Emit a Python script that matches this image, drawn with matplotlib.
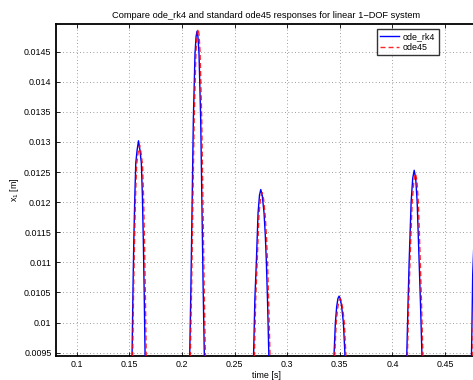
import matplotlib
matplotlib.use("Agg")
import matplotlib.pyplot as plt
from matplotlib.ticker import FixedLocator, FixedFormatter

plt.rcParams['font.family'] = ['Liberation Sans', 'DejaVu Sans']
plt.rcParams['mathtext.fontset'] = 'custom'
plt.rcParams['mathtext.rm'] = 'Liberation Sans'
plt.rcParams['mathtext.it'] = 'Liberation Sans'
plt.rcParams['mathtext.default'] = 'regular'

# ---- data (time [s], x1 [m]) ----
t_rk4 = [0.1522, 0.1526, 0.1534, 0.1542, 0.1552, 0.1561, 0.1574, 0.1587,
         0.1600, 0.1614, 0.1624, 0.1633, 0.1641, 0.1649, 0.1653,
         0.2069, 0.2074, 0.2085, 0.2097, 0.2108, 0.2124, 0.2134, 0.2143,
         0.2152, 0.2162, 0.2178, 0.2189, 0.2201, 0.2212, 0.2217,
         0.2676, 0.2681, 0.2693, 0.2707, 0.2723, 0.2737, 0.2749,
         0.2763, 0.2780, 0.2792, 0.2802, 0.2814, 0.2825, 0.2831,
         0.3441, 0.3446, 0.3458, 0.3470, 0.3482, 0.3493,
         0.3505, 0.3518, 0.3534, 0.3548, 0.3553,
         0.4132, 0.4137, 0.4148, 0.4159, 0.4178, 0.4193, 0.4207,
         0.4221, 0.4235, 0.4254, 0.4267, 0.4280, 0.4285,
         0.4745, 0.4752, 0.4763, 0.4800]
x_rk4 = [0.0090, 0.0095, 0.0105, 0.01134, 0.0121, 0.01265, 0.01287, 0.01302,
         0.01287, 0.01265, 0.0121, 0.01134, 0.0105, 0.0095, 0.0090,
         0.0090, 0.0095, 0.0106, 0.01204, 0.01337, 0.01447, 0.01475, 0.01484,
         0.01475, 0.01447, 0.01337, 0.01204, 0.0106, 0.0095, 0.0090,
         0.0090, 0.0095, 0.0104, 0.01101, 0.01182, 0.01212, 0.01221,
         0.01211, 0.01182, 0.01145, 0.01101, 0.0103, 0.0095, 0.0090,
         0.0090, 0.0095, 0.0100, 0.01026, 0.0104, 0.01044,
         0.0104, 0.01026, 0.0100, 0.0095, 0.0090,
         0.0090, 0.0095, 0.0103, 0.01101, 0.01201, 0.01240, 0.01253,
         0.01240, 0.01201, 0.01101, 0.0103, 0.0095, 0.0090,
         0.0090, 0.0095, 0.0108, 0.0125]

t_ode45 = [0.1528, 0.1532, 0.1540, 0.1549, 0.1559, 0.1569, 0.1583, 0.1597,
           0.1611, 0.1625, 0.1635, 0.1644, 0.1652, 0.1660, 0.1664,
           0.2075, 0.2080, 0.2092, 0.2104, 0.2116, 0.2133, 0.2144, 0.2153,
           0.2162, 0.2172, 0.2188, 0.2199, 0.2211, 0.2222, 0.2227,
           0.2684, 0.2689, 0.2701, 0.2715, 0.2732, 0.2747, 0.2761,
           0.2775, 0.2791, 0.2803, 0.2813, 0.2825, 0.2836, 0.2842,
           0.3448, 0.3453, 0.3466, 0.3479, 0.3491, 0.3503,
           0.3515, 0.3528, 0.3543, 0.3557, 0.3562,
           0.4138, 0.4143, 0.4155, 0.4167, 0.4187, 0.4204, 0.4219,
           0.4233, 0.4247, 0.4265, 0.4277, 0.4289, 0.4294,
           0.4757, 0.4764, 0.4775, 0.4800]
x_ode45 = [0.0090, 0.0095, 0.0105, 0.01134, 0.0121, 0.01262, 0.01282, 0.01295,
           0.01282, 0.01262, 0.0121, 0.01134, 0.0105, 0.0095, 0.0090,
           0.0090, 0.0095, 0.0106, 0.01204, 0.01337, 0.01450, 0.01479, 0.01488,
           0.01479, 0.01450, 0.01337, 0.01204, 0.0106, 0.0095, 0.0090,
           0.0090, 0.0095, 0.0104, 0.01101, 0.01180, 0.01207, 0.01216,
           0.01206, 0.01178, 0.01143, 0.01101, 0.0103, 0.0095, 0.0090,
           0.0090, 0.0095, 0.0100, 0.01023, 0.01036, 0.0104,
           0.01036, 0.01023, 0.0100, 0.0095, 0.0090,
           0.0090, 0.0095, 0.0103, 0.01101, 0.01198, 0.01236, 0.01248,
           0.01236, 0.01198, 0.01101, 0.0103, 0.0095, 0.0090,
           0.0090, 0.0095, 0.0106, 0.0120]

xticks = [0.1, 0.15, 0.2, 0.25, 0.3, 0.35, 0.4, 0.45]
xticklabels = ['0.1', '0.15', '0.2', '0.25', '0.3', '0.35', '0.4', '0.45']
yticks = [0.0095, 0.01, 0.0105, 0.011, 0.0115, 0.012, 0.0125, 0.013,
          0.0135, 0.014, 0.0145]
yticklabels = ['0.0095', '0.01', '0.0105', '0.011', '0.0115', '0.012',
               '0.0125', '0.013', '0.0135', '0.014', '0.0145']

title = 'Compare ode_rk4 and standard ode45 responses for linear 1\u2212DOF system'
series_names = ['ode_rk4', 'ode45']

# ---- figure ----
W, H = 473, 380
fig = plt.figure(figsize=(W / 100, H / 100), dpi=100)
L, R, T, B = 55.7, 476.6, 24.0, 355.7
ax = fig.add_axes([L / W, 1 - B / H, (R - L) / W, (B - T) / H])

fs = 6.4
ax.plot(t_rk4, x_rk4, color='#0000ff', lw=1.0, label=series_names[0], zorder=3)
ax.plot(t_ode45, x_ode45, color='#ff0000', lw=1.0, ls=(0, (3.6, 2.2)),
        label=series_names[1], zorder=4, alpha=0.85)

ax.set_xlim(0.08, 0.48)
ax.set_ylim(0.00945, 0.01496)
ax.xaxis.set_major_locator(FixedLocator(xticks))
ax.xaxis.set_major_formatter(FixedFormatter(xticklabels))
ax.yaxis.set_major_locator(FixedLocator(yticks))
ax.yaxis.set_major_formatter(FixedFormatter(yticklabels))

ax.tick_params(direction='in', length=3.2, width=0.6, labelsize=fs,
               top=True, right=True, colors='black', pad=3)
ax.grid(True, color='#666666', linestyle=(0, (1, 3.4)), linewidth=0.55)
for s in ax.spines.values():
    s.set_linewidth(1.3)

ax.set_title(title, fontsize=6.7, pad=4)
ax.set_xlabel('time [s]', fontsize=fs)
ax.set_ylabel('x$_1$ [m]', fontsize=fs)
ax.xaxis.set_label_coords(0.5, -0.046)
ax.yaxis.set_label_coords(-0.083, 0.5)

leg = ax.legend(loc='upper left', bbox_to_anchor=(377.3 / W, 1 - 29 / H),
                bbox_transform=fig.transFigure, fontsize=fs, frameon=True,
                fancybox=False, borderaxespad=0, handlelength=2.1,
                handletextpad=0.45, labelspacing=0.25, borderpad=0.35)
leg.get_frame().set_edgecolor('black')
leg.get_frame().set_linewidth(1.0)

fig.savefig('out.png', dpi=100)
